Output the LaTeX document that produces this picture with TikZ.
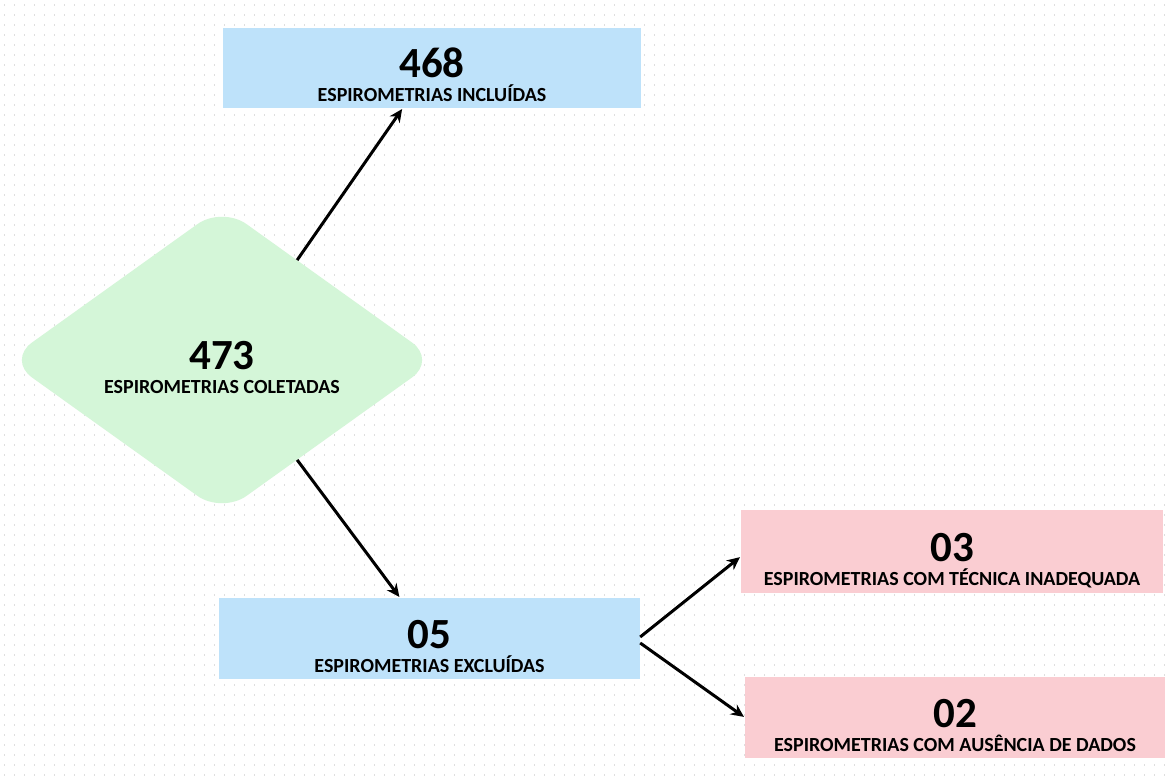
\documentclass[tikz,border=0pt]{standalone}
\usepackage{fontspec}
\setmainfont{Carlito}
\usepackage{tikz}
\usetikzlibrary{arrows.meta,shapes.geometric,calc,positioning}

\definecolor{incblue}{RGB}{190,226,250}
\definecolor{colgreen}{RGB}{212,246,216}
\definecolor{excred}{RGB}{250,205,210}
\definecolor{dotgray}{RGB}{222,222,222}

\newcommand{\numfont}{\fontsize{43}{46}\selectfont\bfseries}
\newcommand{\labfont}{\fontsize{20}{22}\selectfont\bfseries}

\begin{document}
\begin{tikzpicture}[x=1pt, y=1pt,
    arr/.style={-{Stealth[length=13pt,width=12pt]}, line width=3pt, shorten >=1pt},
    box/.style={rectangle, fill=#1, inner sep=0pt},
    num/.style={anchor=base, font=\numfont},
    lab/.style={anchor=base, font=\labfont}]
    % Background with dot grid
    \useasboundingbox (0,0) rectangle (1167,778);
    \fill[white] (0,0) rectangle (1167,778);
    \foreach \y in {3,13,...,773}
        \draw[dotgray, line width=1.4pt, dash pattern=on 1.4pt off 8.6pt, dash phase=-4pt] (0,\y) -- (1167,\y);

    % Nodes {col, inc, exc, r1, r2}
    \node [diamond, fill=colgreen, inner sep=0pt, rounded corners=30pt,
           minimum width=429pt, minimum height=307pt]             (col)  at (222,418)    {};
    \node [box=incblue, minimum width=418pt, minimum height=80pt]  (inc)  at (432,710)    {};
    \node [box=incblue, minimum width=421pt, minimum height=81pt]  (exc)  at (429.5,139.5) {};
    \node [box=excred,  minimum width=422pt, minimum height=83pt]  (r1)   at (952,226.5)  {};
    \node [box=excred,  minimum width=420pt, minimum height=81pt]  (r2)   at (955,60.5)   {};

    % Texts
    \node [num] (coln) at ($(col)+(0,-10)$) {473};
    \node [lab] (coll) at ($(col)+(0,-34)$) {ESPIROMETRIAS COLETADAS};
    \node [num] (incn) at ($(inc)+(0,-10)$) {468};
    \node [lab] (incl) at ($(inc)+(0,-34)$) {ESPIROMETRIAS INCLUÍDAS};
    \node [num] (excn) at ($(exc)+(0,-10)$) {05};
    \node [lab] (excl) at ($(exc)+(0,-34)$) {ESPIROMETRIAS EXCLUÍDAS};
    \node [num] (r1n)  at ($(r1)+(0,-10)$)  {03};
    \node [lab] (r1l)  at ($(r1)+(0,-34)$)  {ESPIROMETRIAS COM TÉCNICA INADEQUADA};
    \node [num] (r2n)  at ($(r2)+(0,-10)$)  {02};
    \node [lab] (r2l)  at ($(r2)+(0,-34)$)  {ESPIROMETRIAS COM AUSÊNCIA DE DADOS};

    % Arrow ends
    \coordinate (colup)  at ($(col.north)!0.35!(col.east)$);
    \coordinate (coldn)  at ($(col.south)!0.35!(col.east)$);
    \coordinate (incin)  at ($(inc.south west)!0.43!(inc.south east)$);
    \coordinate (excin)  at ($(exc.north west)!0.43!(exc.north east)$);
    \coordinate (excup)  at ($(exc.east)+(0,1.5)$);
    \coordinate (excdn)  at ($(exc.east)+(0,-4.5)$);
    \coordinate (r1in)   at ($(r1.west)+(0,-5)$);

    % Paths
    \path [arr] (colup) edge (incin);
    \path [arr] (coldn) edge (excin);
    \path [arr] (excup) edge (r1in);
    \path [arr] (excdn) edge (r2.west);
\end{tikzpicture}
\end{document}
